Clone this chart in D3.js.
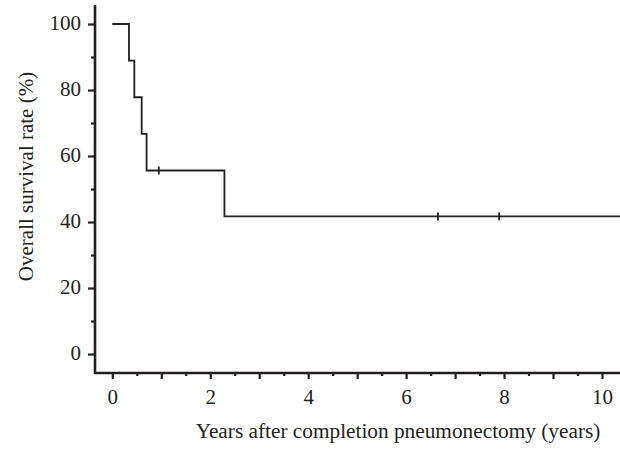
<!DOCTYPE html>
<html>
<head>
<meta charset="utf-8">
<script src="https://cdn.jsdelivr.net/npm/d3@7"></script>
<style>
  body { margin: 0; background: #fff; }
  svg { display: block; }
</style>
</head>
<body>
<script>
// Kaplan-Meier survival data
const stepTimes = [0, 0.34, 0.45, 0.60, 0.70, 2.29, 10.4];
const stepRates = [100, 88.9, 77.8, 66.7, 55.6, 41.7, 41.7];
const censorTimes = [0.95, 6.65, 7.90];
const censorRates = [55.6, 41.7, 41.7];

const xMajorTicks = [0, 1, 2, 3, 4, 5, 6, 7, 8, 9, 10];
const xLabelTicks = [0, 2, 4, 6, 8, 10];
const xMinorTicks = [0.5, 1.5, 2.5, 3.5, 4.5, 5.5, 6.5, 7.5, 8.5, 9.5];
const yMajorTicks = [0, 20, 40, 60, 80, 100];
const yMinorTicks = [10, 30, 50, 70, 90];

const width = 620;
const height = 449;
const ink = "#231f20";
const font = "'Liberation Serif', 'Times New Roman', serif";

const x = d3.scaleLinear().domain([0, 10]).range([112.3, 602]);
const y = d3.scaleLinear().domain([0, 100]).range([354, 24]);

const axisX = 373;   // y position of the x axis line
const axisY = 95;    // x position of the y axis line

const svg = d3.select("body")
    .append("svg")
    .attr("width", width)
    .attr("height", height);

// x axis ticks
const gx = svg.append("g").attr("transform", `translate(0,${axisX})`);
gx.call(d3.axisBottom(x).tickValues(xMajorTicks).tickSize(6).tickFormat(""));
gx.append("g").call(d3.axisBottom(x).tickValues(xMinorTicks).tickSize(3).tickFormat(""));
gx.append("g").call(d3.axisBottom(x).tickValues(xLabelTicks).tickSize(0).tickPadding(16)
    .tickFormat(d3.format("d")));
gx.selectAll(".domain").remove();
gx.selectAll("line").attr("stroke", ink).attr("stroke-width", 2.2);
gx.selectAll("text")
    .attr("fill", ink)
    .style("font-family", font)
    .style("font-size", "21px");

// y axis ticks
const gy = svg.append("g").attr("transform", `translate(${axisY},0)`);
gy.call(d3.axisLeft(y).tickValues(yMajorTicks).tickSize(7).tickPadding(7)
    .tickFormat(d3.format("d")));
gy.append("g").call(d3.axisLeft(y).tickValues(yMinorTicks).tickSize(4).tickFormat(""));
gy.selectAll(".domain").remove();
gy.selectAll("line").attr("stroke", ink).attr("stroke-width", 2.2);
gy.selectAll("text")
    .attr("fill", ink)
    .attr("dy", "0.26em")
    .style("font-family", font)
    .style("font-size", "21px");

// axis lines
svg.append("line")
    .attr("x1", axisY).attr("x2", axisY)
    .attr("y1", 5).attr("y2", axisX + 1)
    .attr("stroke", ink).attr("stroke-width", 2.6);
svg.append("line")
    .attr("x1", axisY - 1).attr("x2", width)
    .attr("y1", axisX).attr("y2", axisX)
    .attr("stroke", ink).attr("stroke-width", 2.4);

// survival curve
const line = d3.line()
    .x(d => x(d[0]))
    .y(d => y(d[1]))
    .curve(d3.curveStepAfter);

svg.append("path")
    .datum(stepTimes.map((t, i) => [t, stepRates[i]]))
    .attr("d", line)
    .attr("fill", "none")
    .attr("stroke", ink)
    .attr("stroke-width", 1.8);

// censor marks
svg.selectAll(".censor")
    .data(censorTimes.map((t, i) => [t, censorRates[i]]))
    .enter().append("line")
    .attr("class", "censor")
    .attr("x1", d => x(d[0]))
    .attr("x2", d => x(d[0]))
    .attr("y1", d => y(d[1]) - 4)
    .attr("y2", d => y(d[1]) + 4)
    .attr("stroke", ink)
    .attr("stroke-width", 1.8);

// axis titles
svg.append("text")
    .attr("x", 398)
    .attr("y", 438)
    .attr("text-anchor", "middle")
    .attr("fill", ink)
    .style("font-family", font)
    .style("font-size", "21.3px")
    .text("Years after completion pneumonectomy (years)");

svg.append("text")
    .attr("transform", "translate(33,176.5) rotate(-90)")
    .attr("text-anchor", "middle")
    .attr("fill", ink)
    .style("font-family", font)
    .style("font-size", "21px")
    .text("Overall survival rate (%)");
</script>
</body>
</html>
